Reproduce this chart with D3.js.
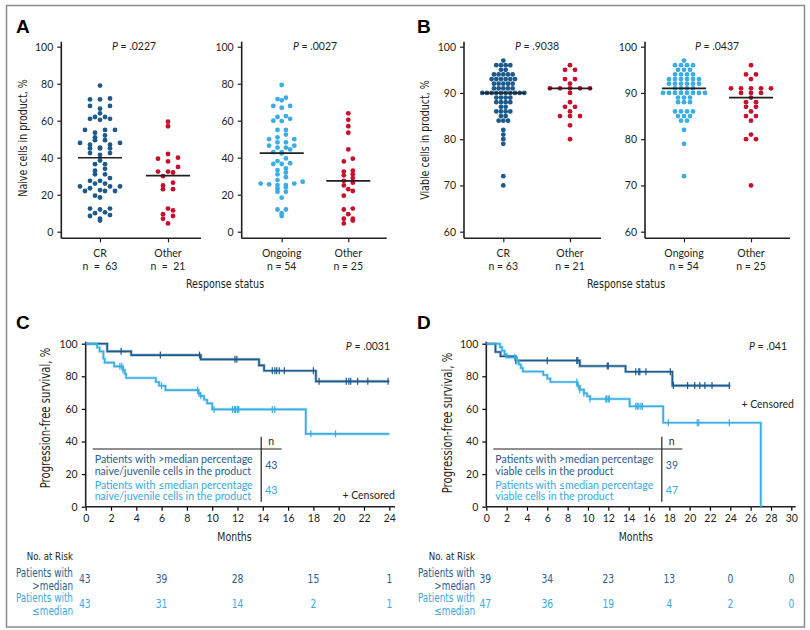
<!DOCTYPE html>
<html>
<head>
<meta charset="utf-8">
<script src="https://cdn.jsdelivr.net/npm/d3@7"></script>
<style>
body { margin: 0; background: #fff; }
svg text { font-family: Lato, "Open Sans", sans-serif; fill: #231f20; }
svg .narrow { font-family: "Liberation Sans Narrow", "DejaVu Sans Condensed", sans-serif; }
</style>
</head>
<body>
<svg id="fig" width="810" height="630"></svg>
<script>
// ---- panel A: naive cells in product, %
var naiveCR = [79, 72, 71.5, 71.5, 68, 68, 66.5, 64, 62, 62, 61, 61, 60.5, 55, 55, 55, 53.5, 52, 51, 49.5, 49.5, 48, 48, 47, 47, 45.5, 45, 45, 45, 42.5, 42.5, 41.5, 38.5, 36.5, 36.5, 34, 33, 31, 31, 29, 27.5, 27.5, 26, 26, 24.5, 24.5, 24.5, 23.5, 22.5, 22, 22, 22, 19.5, 18.5, 12.5, 12.5, 12, 10.5, 10, 9, 8.5, 7, 6]
var naiveCROther = [59.5, 57, 42, 40, 39.5, 38, 35, 32.5, 32.5, 32, 30, 26.5, 25, 23, 23, 12.5, 11.5, 9.5, 8.5, 7, 4.5]
var naiveOngoing = [79.3, 72.4, 71.7, 71, 68, 67, 68, 62.5, 62, 61, 59.8, 60, 55, 55, 52.5, 51, 50, 50, 48.3, 48.3, 46.5, 46.5, 45.5, 45.5, 44.5, 43, 42.3, 43, 39.6, 38.2, 37, 36.6, 36.6, 34.2, 33.3, 32, 31, 29.5, 27.9, 27, 26, 26, 25.2, 25.6, 25.2, 24, 23.4, 21.6, 21.6, 18.4, 12, 12, 10, 8.5]
var naiveOngoingOther = [64, 60.5, 57, 53.5, 44.5, 39.5, 38, 32.5, 31, 33, 30.5, 29, 27.5, 26.5, 25, 23, 22, 19.5, 12.5, 12, 9.5, 7, 7, 6, 4.5]
var naiveMedians = [40, 30.3, 42.5, 27.5]

// ---- panel B: viable cells in product, %
var viableCR = [97, 96, 96, 96, 96, 95, 95, 94, 94, 94, 94, 94, 93, 93, 93, 93, 93, 93, 92, 92, 92, 92, 92, 91, 91, 91, 91, 91, 90, 90, 90, 90, 90, 90, 90, 90, 90, 90, 89, 89, 89, 89, 88, 88, 88, 88, 87, 87, 86, 86, 86, 86, 85, 85, 84, 84, 84, 82, 81, 80, 79, 72, 70]
var viableCROther = [96, 95, 95, 93, 93, 92, 91, 91, 91, 91, 91, 90, 88, 87, 87, 86, 85, 85, 85, 83, 80]
var viableOngoing = [97, 96, 96, 96, 96, 95, 95, 95, 94, 94, 94, 94, 93, 93, 93, 93, 93, 93, 92, 92, 92, 92, 92, 92, 91, 91, 91, 91, 90, 90, 90, 90, 90, 90, 90, 90, 89, 89, 89, 88, 88, 88, 86, 86, 86, 86, 85, 85, 85, 84, 84, 82, 79, 72]
var viableOngoingOther = [96, 94, 94, 93, 91, 91, 91, 91, 91, 90, 90, 90, 89, 88, 88, 87, 87, 86, 85, 85, 84, 81, 80, 80, 70]
var viableMedians = [90, 91, 91, 89]

var naiveTicks = [0, 20, 40, 60, 80, 100]
var viableTicks = [60, 70, 80, 90, 100]

// ---- panel C: PFS by naive/juvenile cells ([month, survival %] after each drop)
var cHighSteps = [[0, 100], [1.7, 95.3], [3.6, 93.0], [9.1, 90.4], [13.7, 86.7], [14.1, 83.4], [18.2, 76.9]]
var cHighCensor = [2.8, 5.9, 9.0, 11.8, 11.95, 14.75, 14.95, 15.1, 15.3, 15.7, 18.0, 18.45, 20.6, 20.8, 20.95, 21.5, 22.3, 23.9]
var cLowSteps = [[0, 100], [0.9, 97.7], [1.1, 95.3], [1.4, 90.8], [1.5, 88.4], [2.25, 86.1], [2.95, 83.8], [3.1, 81.4], [3.2, 79.0], [5.55, 76.5], [5.8, 74.2], [6.3, 71.5], [8.9, 69.7], [9.05, 68.0], [9.35, 65.6], [9.6, 63.4], [10.0, 59.7], [17.4, 44.7]]
var cLowCensor = [2.7, 2.85, 2.95, 6.0, 8.85, 8.95, 9.1, 10.15, 11.6, 11.75, 11.85, 12.0, 12.1, 14.75, 14.95, 17.8, 19.75]
var cRiskMonths = [0, 6, 12, 18, 24]
var cRiskHigh = [43, 39, 28, 15, 1]
var cRiskLow = [43, 31, 14, 2, 1]

// ---- panel D: PFS by viable cells
var dHighSteps = [[0, 100], [0.9, 94.9], [1.4, 92.3], [2.9, 89.7], [9.2, 86.3], [13.7, 82.8], [18.3, 74.3]]
var dHighCensor = [2.9, 6.0, 8.9, 9.0, 11.9, 12.0, 14.7, 15.0, 15.1, 15.7, 18.1, 18.4, 19.8, 20.5, 21.0, 21.5, 22.2, 23.9]
var dLowSteps = [[0, 100], [1.35, 97.9], [1.55, 95.7], [1.8, 93.6], [2.0, 91.5], [3.0, 89.4], [3.2, 87.2], [3.4, 85.1], [3.6, 82.9], [5.6, 80.8], [6.0, 78.6], [6.3, 76.5], [8.95, 74.1], [9.2, 71.8], [9.6, 69.6], [9.9, 67.8], [10.2, 66.1], [14.1, 61.6], [17.4, 51.5], [27.0, 0]]
var dLowCensor = [2.8, 3.0, 8.9, 9.05, 9.2, 9.6, 10.2, 11.75, 11.85, 12.0, 12.1, 14.7, 14.85, 15.0, 15.2, 15.35, 17.9, 20.75, 20.9, 23.9]
var dRiskMonths = [0, 6, 12, 18, 24, 30]
var dRiskHigh = [39, 34, 23, 13, 0, 0]
var dRiskLow = [47, 36, 19, 4, 2, 0]

var darkBlue = '#1c5a8c', lightBlue = '#3aade2', red = '#c8102e'
var darkText = '#2d5d8c', lightText = '#3aa9dd'

var svg = d3.select('#fig')

svg.append('rect').attr('x', 6.5).attr('y', 5.5).attr('width', 798).attr('height', 621.5)
   .attr('fill', 'none').attr('stroke', '#8c8c8c').attr('stroke-width', 1.5)

// condensed label: squeeze the fallback font sideways
function narrowText(txt, x, y, size, anchor, rotate, color) {
    var tr = 'translate(' + x + ',' + y + ')' + (rotate ? ' rotate(-90)' : '') + ' scale(0.85,1)'
    return svg.append('text').attr('class', 'narrow').attr('transform', tr)
              .attr('text-anchor', anchor).style('font-size', size + 'px')
              .style('fill', color || '#231f20').text(txt)
}

function panelLabel(t, x, y) {
    svg.append('text').attr('x', x).attr('y', y).text(t)
       .style('font-family', 'Arial, "Liberation Sans", sans-serif')
       .style('font-weight', 'bold').style('font-size', '19px').style('fill', '#000')
}

function pValue(txt, x, y, anchor) {
    var t = svg.append('text').attr('x', x).attr('y', y).attr('text-anchor', anchor).style('font-size', '10.5px')
    t.append('tspan').style('font-style', 'italic').text('P')
    t.append('tspan').text(' = ' + txt)
}

// groups values into rows and spreads each row sideways
function swarm(vals, bin, maxW, maxSp) {
    var groups = d3.groups(vals, function(v) { return Math.round(v / bin) })
    var maxN = d3.max(groups, function(g) { return g[1].length })
    var sp = maxN > 1 ? Math.min(maxSp, maxW / (maxN - 1)) : 0
    var pts = []
    groups.forEach(function(g) {
        var vs = g[1].slice().sort(d3.ascending), n = vs.length
        var offs = d3.range(n).map(function(i) { return (i - (n - 1) / 2) * sp })
                     .sort(function(a, b) { return Math.abs(a) - Math.abs(b) || a - b })
        vs.forEach(function(v, i) { pts.push({ v: v, dx: offs[i] }) })
    })
    return pts
}

function dotPanel(o) {
    var y = d3.scaleLinear().domain(o.domain).range([231.7, 46.7])
    var x = d3.scalePoint().domain(o.cats.map(function(c, i) { return i })).range(o.catRange)

    var yAx = svg.append('g').attr('transform', 'translate(' + o.x0 + ',0)')
                 .call(d3.axisLeft(y).tickValues(o.ticks).tickSize(4).tickPadding(4))
    yAx.attr('font-family', null).attr('font-size', null)
    yAx.select('.domain').remove()
    yAx.selectAll('.tick line').attr('stroke', '#231f20').attr('stroke-width', 1.2)
    yAx.selectAll('text').style('font-size', '10.5px')

    var xAx = svg.append('g').attr('transform', 'translate(0,238.3)')
                 .call(d3.axisBottom(x).tickSize(4).tickFormat(''))
    xAx.select('.domain').remove()
    xAx.selectAll('.tick line').attr('stroke', '#231f20').attr('stroke-width', 1.2)

    svg.append('line').attr('x1', o.x0).attr('x2', o.x0).attr('y1', 41.7).attr('y2', 238.3)
       .attr('stroke', '#231f20').attr('stroke-width', 1.6)
    svg.append('line').attr('x1', o.x0).attr('x2', o.xEnd).attr('y1', 238.3).attr('y2', 238.3)
       .attr('stroke', '#231f20').attr('stroke-width', 1.6)

    o.cats.forEach(function(c, i) {
        var cx = x(i)
        var pts = swarm(c.values, o.bin, 42, o.maxSp)
        svg.append('g').selectAll('circle').data(pts).enter().append('circle')
           .attr('cx', function(d) { return cx + d.dx })
           .attr('cy', function(d) { return y(d.v) })
           .attr('r', 2.4)
           .attr('fill', c.color)
        svg.append('line').attr('x1', cx - 22).attr('x2', cx + 22)
           .attr('y1', y(c.median)).attr('y2', y(c.median))
           .attr('stroke', '#231f20').attr('stroke-width', 1.6)
        svg.append('text').attr('x', cx).attr('y', 257).attr('text-anchor', 'middle')
           .style('font-size', '10.5px').text(c.name)
        svg.append('text').attr('x', cx).attr('y', 270).attr('text-anchor', 'middle')
           .style('font-size', '10.5px').style('white-space', 'pre').text(c.n)
    })
    pValue(o.p, o.pX, 49.5, 'middle')
}

// ---- A
panelLabel('A', 16, 33)
narrowText('Naive cells in product, %', 27, 138, 12.4, 'middle', true)
dotPanel({ domain: [0, 100], ticks: naiveTicks, x0: 61.3, xEnd: 201, catRange: [100, 168], bin: 2.6, maxSp: 10,
    p: '.0227', pX: 134,
    cats: [{ name: 'CR', n: 'n  =  63', values: naiveCR, color: darkBlue, median: naiveMedians[0] },
           { name: 'Other', n: 'n  =  21', values: naiveCROther, color: red, median: naiveMedians[1] }] })
dotPanel({ domain: [0, 100], ticks: naiveTicks, x0: 241.7, xEnd: 386.7, catRange: [281.7, 348.3], bin: 2.6, maxSp: 9,
    p: '.0027', pX: 315,
    cats: [{ name: 'Ongoing', n: 'n = 54', values: naiveOngoing, color: lightBlue, median: naiveMedians[2] },
           { name: 'Other', n: 'n = 25', values: naiveOngoingOther, color: red, median: naiveMedians[3] }] })
narrowText('Response status', 225, 288, 12.5, 'middle')

// ---- B
panelLabel('B', 417, 33)
narrowText('Viable cells in product, %', 429, 140, 12.4, 'middle', true)
dotPanel({ domain: [60, 100], ticks: viableTicks, x0: 464, xEnd: 601, catRange: [503.3, 570], bin: 1, maxSp: 10,
    p: '.9038', pX: 537,
    cats: [{ name: 'CR', n: 'n = 63', values: viableCR, color: darkBlue, median: viableMedians[0] },
           { name: 'Other', n: 'n = 21', values: viableCROther, color: red, median: viableMedians[1] }] })
dotPanel({ domain: [60, 100], ticks: viableTicks, x0: 645, xEnd: 790, catRange: [684, 751], bin: 1, maxSp: 10,
    p: '.0437', pX: 717,
    cats: [{ name: 'Ongoing', n: 'n = 54', values: viableOngoing, color: lightBlue, median: viableMedians[2] },
           { name: 'Other', n: 'n = 25', values: viableOngoingOther, color: red, median: viableMedians[3] }] })
narrowText('Response status', 626, 288, 12.5, 'middle')

// ---- Kaplan-Meier panels
function survAt(steps, t) {
    var s = steps[0][1]
    steps.forEach(function(d) { if (d[0] <= t) s = d[1] })
    return s
}

function kmPanel(o) {
    var x = d3.scaleLinear().domain([0, o.xMax]).range([o.x0, o.x1])
    var y = d3.scaleLinear().domain([0, 100]).range([506.7, 343.7])

    var yAx = svg.append('g').attr('transform', 'translate(' + o.x0 + ',0)')
                 .call(d3.axisLeft(y).tickValues([0, 20, 40, 60, 80, 100]).tickSize(4).tickPadding(4))
    yAx.attr('font-family', null).attr('font-size', null)
    yAx.select('.domain').remove()
    yAx.selectAll('.tick line').attr('stroke-width', 1.2)
    yAx.selectAll('text').style('font-size', '10.5px')

    var xAx = svg.append('g').attr('transform', 'translate(0,506.7)')
                 .call(d3.axisBottom(x).tickValues(d3.range(0, o.xMax + 1, 2)).tickSize(4).tickPadding(4))
    xAx.attr('font-family', null).attr('font-size', null)
    xAx.select('.domain').remove()
    xAx.selectAll('.tick line').attr('stroke-width', 1.2)
    xAx.selectAll('text').style('font-size', '10.5px')

    svg.append('line').attr('x1', o.x0).attr('x2', o.x0).attr('y1', 341.7).attr('y2', 506.7)
       .attr('stroke', '#231f20').attr('stroke-width', 1.6)
    svg.append('line').attr('x1', o.x0).attr('x2', o.axisEnd).attr('y1', 506.7).attr('y2', 506.7)
       .attr('stroke', '#231f20').attr('stroke-width', 1.6)

    var line = d3.line().x(function(d) { return x(d[0]) }).y(function(d) { return y(d[1]) }).curve(d3.curveStepAfter)

    o.curves.forEach(function(c) {
        var pts = c.steps.concat([[c.end, c.steps[c.steps.length - 1][1]]])
        svg.append('path').attr('d', line(pts)).attr('fill', 'none')
           .attr('stroke', c.color).attr('stroke-opacity', 0.3).attr('stroke-width', 3.2)
        svg.append('path').attr('d', line(pts)).attr('fill', 'none')
           .attr('stroke', c.color).attr('stroke-width', 1.6)
        svg.append('g').selectAll('line').data(c.censor).enter().append('line')
           .attr('x1', function(d) { return x(d) }).attr('x2', function(d) { return x(d) })
           .attr('y1', function(d) { return y(survAt(c.steps, d)) - 3.5 })
           .attr('y2', function(d) { return y(survAt(c.steps, d)) + 3.5 })
           .attr('stroke', c.color).attr('stroke-width', 1.2)
    })

    // legend table
    var lx = o.legX
    svg.append('line').attr('x1', lx).attr('x2', lx + 189).attr('y1', 449).attr('y2', 449)
       .attr('stroke', '#231f20').attr('stroke-width', 1)
    svg.append('line').attr('x1', lx + 168.5).attr('x2', lx + 168.5).attr('y1', 436.7).attr('y2', 501.7)
       .attr('stroke', '#231f20').attr('stroke-width', 1.2)
    svg.append('text').attr('x', lx + 178.5).attr('y', 445).attr('text-anchor', 'middle')
       .style('font-size', '10.5px').text('n')
    var rows = [[o.legText[0], o.legText[1], o.n[0], darkText, 463, 474.7, 468.5],
                [o.legText[2], o.legText[3], o.n[1], lightText, 488.7, 500.3, 494]]
    rows.forEach(function(r) {
        svg.append('text').attr('x', lx + 2).attr('y', r[4]).style('font-size', '10.6px').style('fill', r[3]).text(r[0])
        svg.append('text').attr('x', lx + 2).attr('y', r[5]).style('font-size', '10.6px').style('fill', r[3]).text(r[1])
        svg.append('text').attr('x', lx + 172.5).attr('y', r[6]).style('font-size', '10.6px').style('fill', r[3]).text(r[2])
    })

    pValue(o.p, o.pX, 350, 'end')
    svg.append('text').attr('x', o.censX).attr('y', o.censY).attr('text-anchor', 'end')
       .style('font-size', '10.5px').text('+ Censored')
    narrowText('Months', (o.x0 + o.x1) / 2 - 3, 541, 12.3, 'middle')
    narrowText('Progression-free survival, %', o.titleX, o.titleY, 13.2, 'middle', true)

    // number at risk
    narrowText('No. at Risk', o.riskLabelX, 560, 11.3, 'end')
    var riskRows = [[o.riskHigh, darkText, 'Patients with', '>median', 577, 589.5, 583],
                    [o.riskLow, lightText, 'Patients with', '\u2264median', 602, 614.5, 608]]
    riskRows.forEach(function(r) {
        narrowText(r[2], o.riskLabelX, r[4], 11.6, 'end', false, r[1])
        narrowText(r[3], o.riskLabelX, r[5], 11.6, 'end', false, r[1])
        o.riskMonths.forEach(function(m, i) {
            narrowText(r[0][i], i === 0 ? x(m) - 1 : x(m), r[6], 12, 'middle', false, r[1])
        })
    })
}

panelLabel('C', 16, 329)
kmPanel({ xMax: 24, x0: 85.7, x1: 389.3, axisEnd: 395, legX: 92.7, n: [43, 43], titleX: 50, titleY: 418,
    legText: ['Patients with >median percentage', 'naive/juvenile cells in the product',
              'Patients with \u2264median percentage', 'naive/juvenile cells in the product'],
    p: '.0031', pX: 390, censX: 395, censY: 499,
    riskLabelX: 73, riskMonths: cRiskMonths, riskHigh: cRiskHigh, riskLow: cRiskLow,
    curves: [{ steps: cHighSteps, censor: cHighCensor, end: 24, color: darkBlue },
             { steps: cLowSteps, censor: cLowCensor, end: 24, color: lightBlue }] })

panelLabel('D', 417, 329)
kmPanel({ xMax: 30, x0: 486.3, x1: 791.3, axisEnd: 795.7, legX: 493.3, n: [39, 47], titleX: 452, titleY: 423,
    legText: ['Patients with >median percentage', 'viable cells in the product',
              'Patients with \u2264median percentage', 'viable cells in the product'],
    p: '.041', pX: 787, censX: 794, censY: 408,
    riskLabelX: 475, riskMonths: dRiskMonths, riskHigh: dRiskHigh, riskLow: dRiskLow,
    curves: [{ steps: dHighSteps, censor: dHighCensor, end: 24, color: darkBlue },
             { steps: dLowSteps, censor: dLowCensor, end: 27, color: lightBlue }] })
</script>
</body>
</html>
